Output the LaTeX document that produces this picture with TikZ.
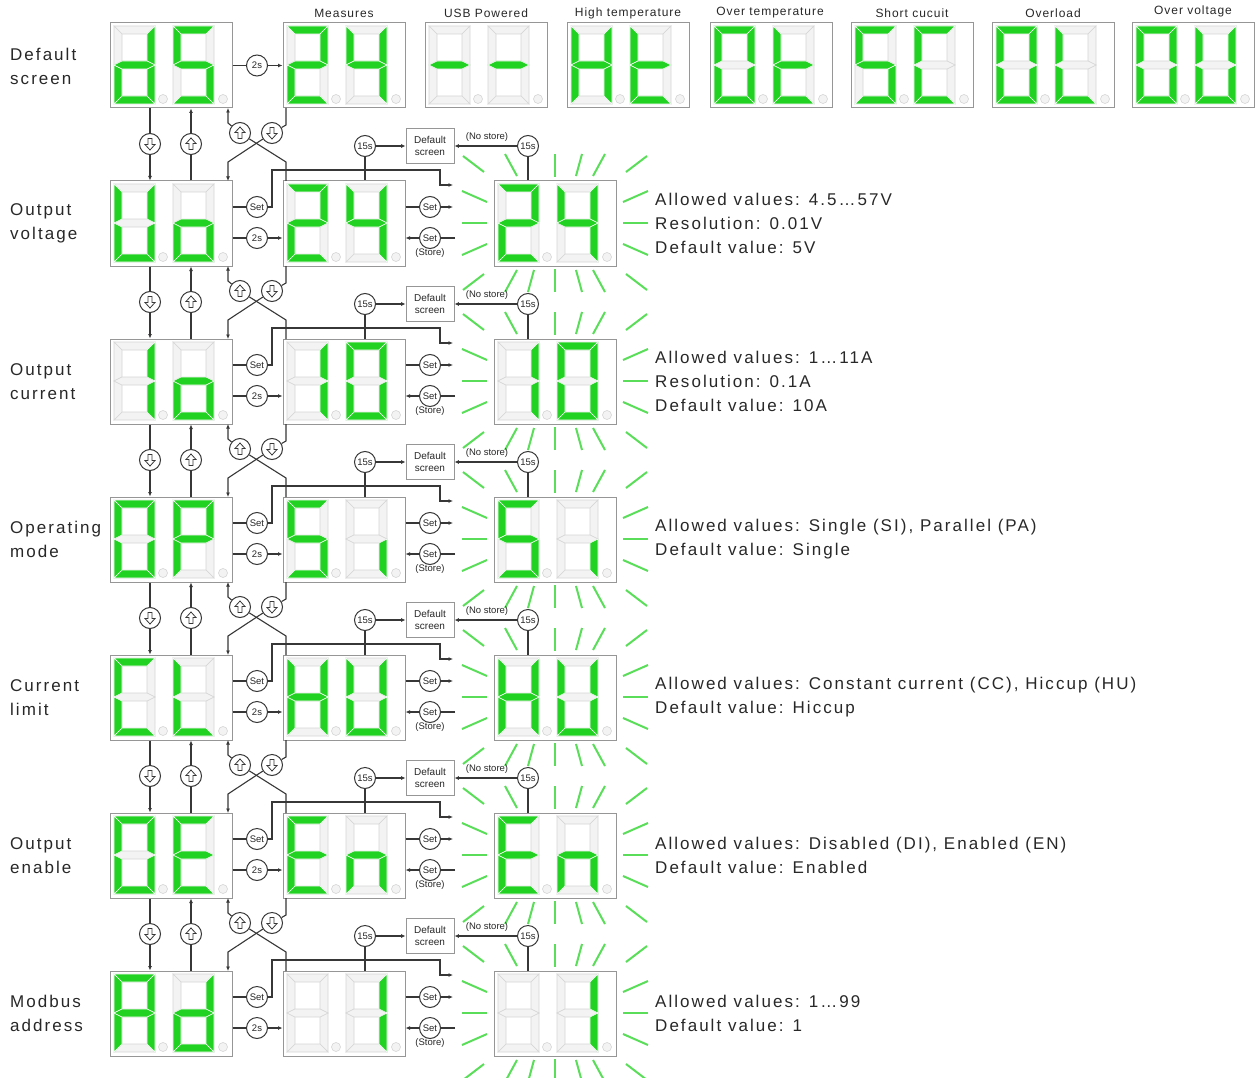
\documentclass[tikz,border=0pt]{standalone}
\usepackage{fontspec}
\setmainfont{Liberation Sans}
\newfontfamily\lsp[LetterSpace=12]{Liberation Sans}
\newfontfamily\ssp[LetterSpace=8]{Liberation Sans}
\usetikzlibrary{arrows.meta}
\definecolor{segG}{RGB}{34,210,34}
\definecolor{rayG}{RGB}{90,222,90}
\definecolor{ln}{RGB}{55,55,55}
\definecolor{txt}{RGB}{40,40,40}
\definecolor{boxc}{RGB}{150,150,150}
\definecolor{unf}{RGB}{243,243,243}
\definecolor{und}{RGB}{214,214,214}

\newcommand\sega[1]{\filldraw[#1] (0,0)--(41,0)--(33,8)--(8,8)--cycle;}
\newcommand\segb[1]{\filldraw[#1] (41,0)--(41,39)--(33,35)--(33,8)--cycle;}
\newcommand\segc[1]{\filldraw[#1] (41,39)--(41,78)--(33,70)--(33,43)--cycle;}
\newcommand\segd[1]{\filldraw[#1] (0,78)--(41,78)--(33,70)--(8,70)--cycle;}
\newcommand\sege[1]{\filldraw[#1] (0,39)--(8,43)--(8,70)--(0,78)--cycle;}
\newcommand\segf[1]{\filldraw[#1] (0,0)--(8,8)--(8,35)--(0,39)--cycle;}
\newcommand\segg[1]{\filldraw[#1] (0,39)--(8,35)--(33,35)--(41,39)--(33,43)--(8,43)--cycle;}
\newcommand\segz[1]{}

\newcommand\sevenseg[3]{%
 \begin{scope}[shift={(#1,#2)}]
  \foreach \s in {a,b,c,d,e,f,g}{\csname seg\s\endcsname{unlit}}
  \foreach \s in {#3}{\csname seg\s\endcsname{lit}}
 \end{scope}}

\newcommand\dispbox[5]{%
 \node[dbox] (#1) at ({#2+61},{#3+42.5}) {};
 \sevenseg{#2+4}{#3+3}{#4}
 \sevenseg{#2+63}{#3+3}{#5}
 \filldraw[unlit] ({#2+53},{#3+76}) circle (4.5pt);
 \filldraw[unlit] ({#2+113},{#3+76}) circle (4.5pt);
}

\newcommand\glow[2]{%
 \begin{scope}[shift={(#1,#2)}]
 \foreach \ox/\oy/\ix/\iy in {-92/-67/-71/-51, -50/-69/-38/-47, 0/-69/0/-46, 27/-69/21/-47, 50/-69/38/-47, 92/-67/71/-51,
   -92/67/-71/51, -50/69/-38/47, -27/69/-21/47, 0/69/0/46, 27/69/21/47, 50/69/38/47, 92/67/71/51,
   -93/-32/-68/-21, -93/0/-68/0, -93/32/-68/21, 93/-32/68/-21, 93/0/68/0, 93/32/68/21}
  {\draw[ray] (\ox,\oy) -- (\ix,\iy);}
 \end{scope}}

\newcommand\rowblock[9]{%
 \glow{555}{#2+42}
 \dispbox{a#1}{110}{#2}{#4}{#5}
 \dispbox{b#1}{283}{#2}{#6}{#7}
 \dispbox{g#1}{494}{#2}{#6}{#7}
 \node[lab] (l#1) at (10,#2+42.5) {#3};
 \node[desc] (d#1) at (655,#2+42.5) {#8};
 % left column up/down
 \node[circ] (dn#1) at (150,#2-37) {}; \pic at (dn#1) {dnarr};
 \draw[conn] (a#9.south -| dn#1) -- (dn#1);
 \draw[conn,arr] (dn#1) -- (a#1.north -| dn#1);
 \node[circ] (up#1) at (191,#2-37) {}; \pic at (up#1) {uparr};
 \draw[conn] (a#1.north -| up#1) -- (up#1);
 \draw[conn,arr] (up#1) -- (a#9.south -| up#1);
 % crossing
 \node[circ] (cu#1) at (240,#2-48) {}; \pic at (cu#1) {uparr};
 \node[circ] (cd#1) at (272,#2-48) {}; \pic at (cd#1) {dnarr};
 \draw[conn] (286,#2) -- (286,#2-19) -- (cu#1);
 \draw[conn,arr] (cu#1) -- (228,#2-58) -- (228,#2-73);
 \draw[conn] (286,#2-73) -- (286,#2-56) -- (cd#1);
 \draw[conn,arr] (cd#1) -- (228,#2-19) -- (228,#2);
 % timeouts
 \node[circ] (fa#1) at (365,#2-35) {15s};
 \node[dsbox] (ds#1) at (430,#2-35) {Default\\screen};
 \node[circ] (fb#1) at (528,#2-35) {15s};
 \node[small] (ns#1) at (487,#2-44) {(No store)};
 \draw[conn] (fa#1) -- (fa#1 |- b#1.north);
 \draw[conn,arr] (fa#1) -- (ds#1);
 \draw[conn] (fb#1) -- (fb#1 |- g#1.north);
 \draw[conn,arr] (fb#1) -- (ds#1);
 % set / 2s
 \node[circ] (sa#1) at (257,#2+26) {Set};
 \node[circ] (ta#1) at (257,#2+57) {2s};
 \draw[conn] (a#1.east |- sa#1) -- (sa#1);
 \draw[conn] (a#1.east |- ta#1) -- (ta#1);
 \draw[conn,arr] (ta#1) -- (b#1.west |- ta#1);
 \coordinate (ge#1) at (453,#2+4);
 \draw[conn,arr] (sa#1) -- (272,#2+26) -- (272,#2-11) -- (440,#2-11) -- (440,#2+4) -- (ge#1);
 \node[circ] (sb#1) at (430,#2+26) {Set};
 \node[circ] (st#1) at (430,#2+57) {Set};
 \node[small] (sl#1) at (430,#2+72) {(Store)};
 \coordinate (gs#1) at (453,#2+26);
 \coordinate (gt#1) at (455,#2+57);
 \draw[conn] (b#1.east |- sb#1) -- (sb#1);
 \draw[conn,arr] (sb#1) -- (gs#1);
 \draw[conn] (gt#1) -- (st#1);
 \draw[conn,arr] (st#1) -- (b#1.east |- st#1);
}

\begin{document}
\begin{tikzpicture}[x=1pt,y=-1pt,
  lit/.style={fill=segG,draw=white,line width=0.6pt},
  unlit/.style={fill=unf,draw=und,line width=0.6pt},
  dbox/.style={draw=boxc,fill=white,line width=1pt,minimum width=122pt,minimum height=85pt,inner sep=0pt},
  ray/.style={draw=rayG,line width=2pt},
  lab/.style={anchor=west,align=left,inner sep=0pt,text=txt,font=\lsp\fontsize{17}{24}\selectfont},
  desc/.style={anchor=west,align=left,inner sep=0pt,text=txt,font=\lsp\fontsize{17}{24}\selectfont},
  toplab/.style={inner sep=0pt,text=txt,font=\ssp\fontsize{12}{14}\selectfont},
  circ/.style={circle,draw=ln,fill=white,line width=1pt,minimum size=21pt,inner sep=0pt,text=txt,font=\fontsize{9.5}{10}\selectfont},
  dsbox/.style={draw=boxc,fill=white,line width=0.9pt,minimum width=48pt,minimum height=35pt,inner sep=0pt,align=center,text=txt,font=\fontsize{10}{12.5}\selectfont},
  small/.style={inner sep=0pt,text=txt,font=\fontsize{9.5}{10}\selectfont},
  conn/.style={draw=ln,line width=1.1pt},
  arr/.style={-{Latex[length=4.5pt,width=4pt]}},
  uparr/.pic={\draw[line width=0.8pt,ln] (0,-6)--(5,-0.5)--(2,-0.5)--(2,5.5)--(-2,5.5)--(-2,-0.5)--(-5,-0.5)--cycle;},
  dnarr/.pic={\draw[line width=0.8pt,ln] (0,6)--(5,0.5)--(2,0.5)--(2,-5.5)--(-2,-5.5)--(-2,0.5)--(-5,0.5)--cycle;}
]
\fill[white] (0,0) rectangle (1255,1078);
\useasboundingbox (0,0) rectangle (1255,1078);

% top row
\dispbox{a1}{110}{23}{b,c,d,e,g}{a,f,g,c,d}
\dispbox{b1}{283}{23}{a,b,g,e,d}{f,g,b,c}
\dispbox{usb}{425}{23}{g}{g}
\dispbox{ht}{567}{23}{b,c,e,f,g}{f,e,g,d}
\dispbox{ot}{710}{23}{a,b,c,d,e,f}{f,e,g,d}
\dispbox{sc}{851}{23}{a,f,g,c,d}{a,f,e,d}
\dispbox{ol}{992}{23}{a,b,c,d,e,f}{f,e,d}
\dispbox{ov}{1132}{23}{a,b,c,d,e,f}{b,c,d,e,f}
\node[lab] (l1) at (10,66.5) {Default\\screen};
\node[toplab] at (344,13) {Measures};
\node[toplab] at (486,13) {USB Powered};
\node[toplab] at (628,13) {High temperature};
\node[toplab] at (770,13) {Over temperature};
\node[toplab] at (912,13) {Short cucuit};
\node[toplab] at (1053,13) {Overload};
\node[toplab] at (1193,11) {Over voltage};
\node[circ] (t1) at (257,65.5) {2s};
\draw[conn] (a1.east |- t1) -- (t1);
\draw[conn,arr] (t1) -- (b1.west |- t1);

\rowblock{2}{181}{Output\\voltage}{b,c,d,e,f}{c,d,e,g}{a,b,d,e,g}{b,c,f,g}{Allowed values: 4.5…57V\\Resolution: 0.01V\\Default value: 5V}{1}
\rowblock{3}{339}{Output\\current}{b,c}{c,d,e,g}{b,c}{a,b,c,d,e,f}{Allowed values: 1…11A\\Resolution: 0.1A\\Default value: 10A}{2}
\rowblock{4}{497}{Operating\\mode}{a,b,c,d,e,f}{a,b,e,f,g}{a,c,d,f,g}{c}{Allowed values: Single (SI), Parallel (PA)\\Default value: Single}{3}
\rowblock{5}{655}{Current\\limit}{a,d,e,f}{d,e,f}{b,c,e,f,g}{b,c,d,e,f}{Allowed values: Constant current (CC), Hiccup (HU)\\Default value: Hiccup}{4}
\rowblock{6}{813}{Output\\enable}{a,b,c,d,e,f}{a,d,e,f,g}{a,d,e,f,g}{c,e,g}{Allowed values: Disabled (DI), Enabled (EN)\\Default value: Enabled}{5}
\rowblock{7}{971}{Modbus\\address}{a,b,c,e,f,g}{b,c,d,e,g}{z}{b,c}{Allowed values: 1…99\\Default value: 1}{6}
\end{tikzpicture}
\end{document}
